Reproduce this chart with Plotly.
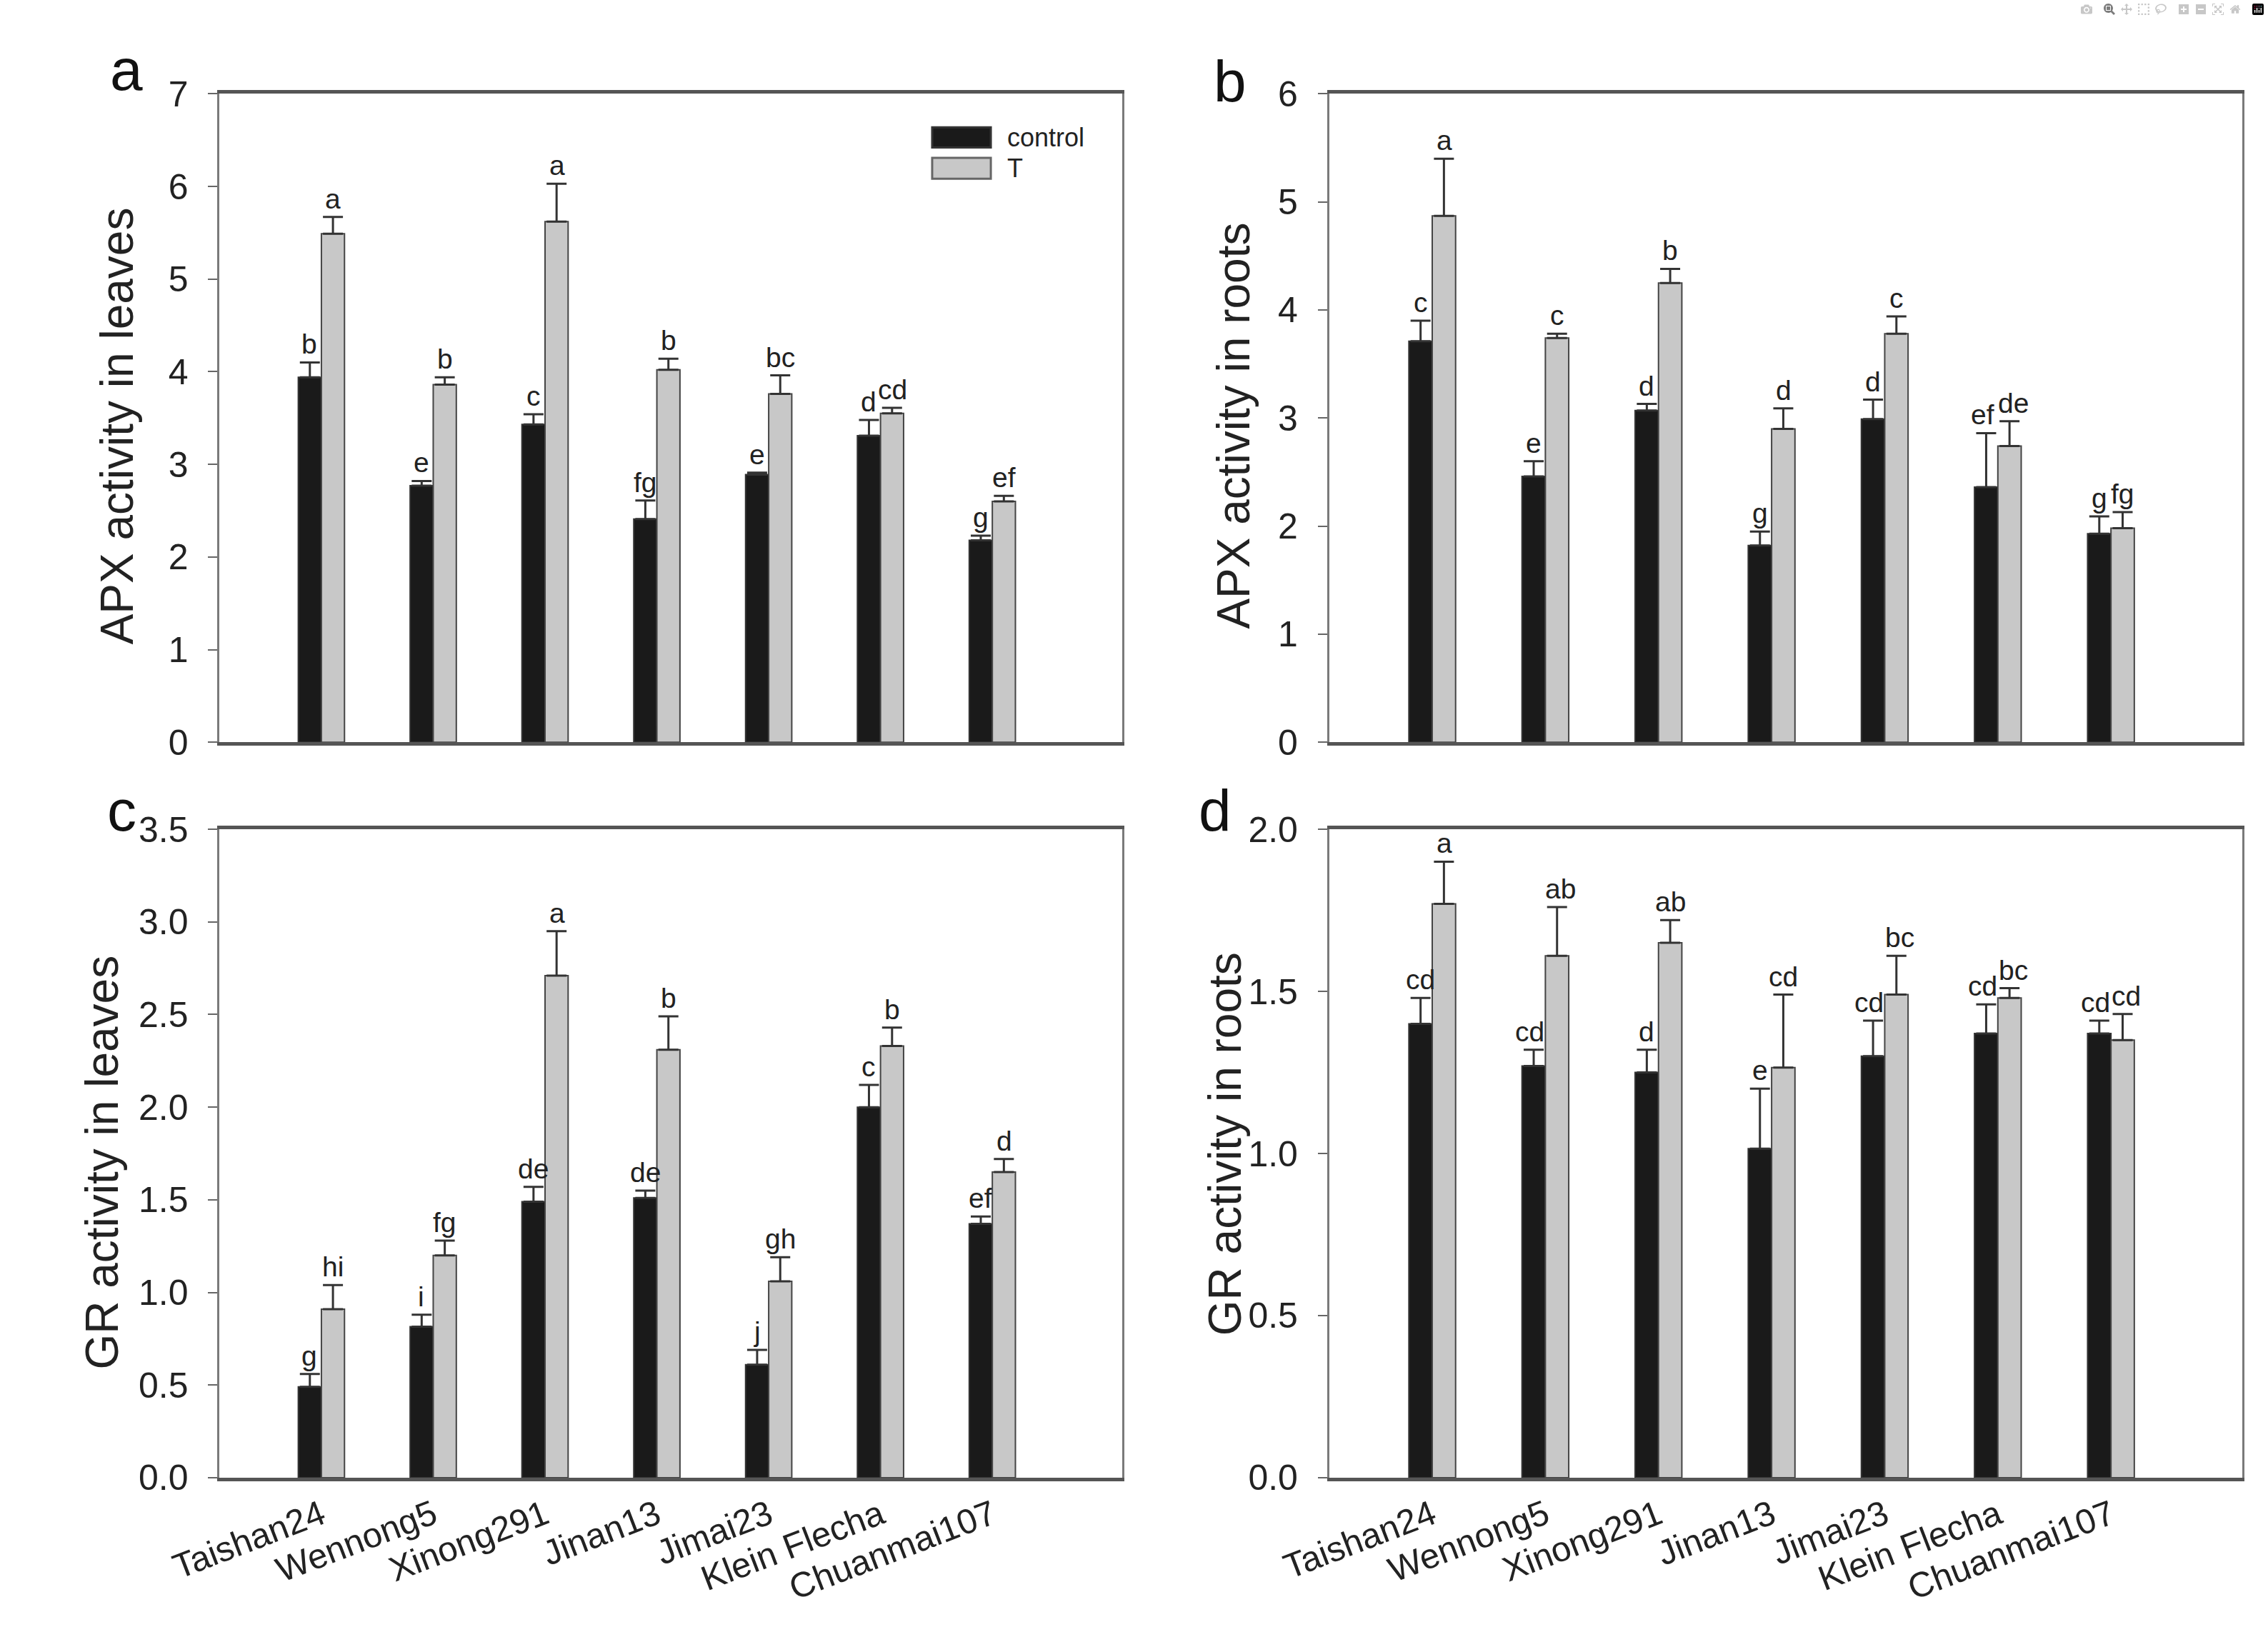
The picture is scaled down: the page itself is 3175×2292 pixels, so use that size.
import plotly.graph_objects as go

cultivars = ["Taishan24", "Wennong5", "Xinong291", "Jinan13", "Jimai23", "Klein Flecha", "Chuanmai107"]

# a: APX activity in leaves
apx_leaf_ctrl = [3.94, 2.77, 3.43, 2.41, 2.89, 3.31, 2.18]
apx_leaf_ctrl_err = [0.16, 0.05, 0.11, 0.20, 0.02, 0.17, 0.05]
apx_leaf_t = [5.49, 3.86, 5.62, 4.02, 3.76, 3.55, 2.60]
apx_leaf_t_err = [0.18, 0.08, 0.41, 0.12, 0.20, 0.06, 0.06]
apx_leaf_ctrl_lbl = ["b", "e", "c", "fg", "e", "d", "g"]
apx_leaf_t_lbl = ["a", "b", "a", "b", "bc", "cd", "ef"]

# b: APX activity in roots
apx_root_ctrl = [3.71, 2.46, 3.07, 1.82, 2.99, 2.36, 1.93]
apx_root_ctrl_err = [0.19, 0.14, 0.06, 0.13, 0.18, 0.50, 0.16]
apx_root_t = [4.87, 3.74, 4.25, 2.90, 3.78, 2.74, 1.98]
apx_root_t_err = [0.53, 0.04, 0.13, 0.19, 0.16, 0.23, 0.15]
apx_root_ctrl_lbl = ["c", "e", "d", "g", "d", "ef", "g"]
apx_root_t_lbl = ["a", "c", "b", "d", "c", "de", "fg"]

# c: GR activity in leaves
gr_leaf_ctrl = [0.49, 0.815, 1.49, 1.51, 0.61, 2.00, 1.37]
gr_leaf_ctrl_err = [0.07, 0.065, 0.08, 0.04, 0.08, 0.12, 0.04]
gr_leaf_t = [0.91, 1.20, 2.71, 2.31, 1.06, 2.33, 1.65]
gr_leaf_t_err = [0.13, 0.08, 0.24, 0.18, 0.13, 0.10, 0.07]
gr_leaf_ctrl_lbl = ["g", "i", "de", "de", "j", "c", "ef"]
gr_leaf_t_lbl = ["hi", "fg", "a", "b", "gh", "b", "d"]

# d: GR activity in roots
gr_root_ctrl = [1.40, 1.27, 1.25, 1.015, 1.30, 1.37, 1.37]
gr_root_ctrl_err = [0.08, 0.05, 0.07, 0.185, 0.11, 0.09, 0.04]
gr_root_t = [1.77, 1.61, 1.65, 1.265, 1.49, 1.48, 1.35]
gr_root_t_err = [0.13, 0.15, 0.07, 0.225, 0.12, 0.03, 0.08]
gr_root_ctrl_lbl = ["cd", "cd", "d", "e", "cd", "cd", "cd"]
gr_root_t_lbl = ["a", "ab", "ab", "cd", "bc", "bc", "cd"]

W, H = 3175, 2292
FONT = "Liberation Sans, Arial, sans-serif"
BLACK = "#1a1a1a"
GREY = "#c8c8c8"
TXT = "#222222"

panels = [
    # suffix, ctrl, ctrl_err, t, t_err, ctrl labels, t labels, title, yrange, dtick, fmt,
    # x extent px, y extent px, letter, letter pos, title pos
    ("", apx_leaf_ctrl, apx_leaf_ctrl_err, apx_leaf_t, apx_leaf_t_err, apx_leaf_ctrl_lbl, apx_leaf_t_lbl,
     "APX activity in leaves", [0, 7], 1, "d", [240, 1533], [106, 1037], "a", (106, 120), (93, 583)),
    ("2", apx_root_ctrl, apx_root_ctrl_err, apx_root_t, apx_root_t_err, apx_root_ctrl_lbl, apx_root_t_lbl,
     "APX activity in roots", [0, 6], 1, "d", [1830, 3138], [106, 1037], "b", (1688, 136), (1692, 583)),
    ("3", gr_leaf_ctrl, gr_leaf_ctrl_err, gr_leaf_t, gr_leaf_t_err, gr_leaf_ctrl_lbl, gr_leaf_t_lbl,
     "GR activity in leaves", [0, 3.5], 0.5, ".1f", [240, 1533], [1162, 2093], "c", (100, 1183), (72, 1640)),
    ("4", gr_root_ctrl, gr_root_ctrl_err, gr_root_t, gr_root_t_err, gr_root_ctrl_lbl, gr_root_t_lbl,
     "GR activity in roots", [0, 2.0], 0.5, ".1f", [1830, 3138], [1162, 2093], "d", (1666, 1183), (1680, 1614)),
]

fig = go.Figure()
annotations = []
half_bar_px = 16.5


def letter_shift(side, lab, other):
    # push neighbouring two-letter labels a little apart so they do not collide
    extra = 5 if (len(lab) + len(other)) >= 4 else 0
    return side * (half_bar_px + extra)


for i, (sfx, c, ce, t, te, cl, tl, title, yr, dt, fmt, xd, yd, letter, lpos, tpos) in enumerate(panels):
    xa, ya = "x" + sfx, "y" + sfx
    fig.add_trace(go.Bar(
        x=cultivars, y=c, name="control", xaxis=xa, yaxis=ya,
        marker=dict(color=BLACK, line=dict(color="#333333", width=2)),
        error_y=dict(type="data", array=ce, arrayminus=[0] * len(ce), symmetric=False,
                     color="#333333", thickness=3, width=14),
        showlegend=False,
    ))
    fig.add_trace(go.Bar(
        x=cultivars, y=t, name="T", xaxis=xa, yaxis=ya,
        marker=dict(color=GREY, line=dict(color="#444444", width=2)),
        error_y=dict(type="data", array=te, arrayminus=[0] * len(te), symmetric=False,
                     color="#333333", thickness=3, width=14),
        showlegend=False,
    ))

    # significance letters above the error bars
    for name, v, e, lab, other in zip(cultivars, c, ce, cl, tl):
        annotations.append(dict(x=name, y=v + e, xref=xa, yref=ya, text=lab, showarrow=False,
                                xshift=letter_shift(-1, lab, other), yanchor="bottom", yshift=2,
                                font=dict(family=FONT, size=39, color=TXT)))
    for name, v, e, lab, other in zip(cultivars, t, te, tl, cl):
        annotations.append(dict(x=name, y=v + e, xref=xa, yref=ya, text=lab, showarrow=False,
                                xshift=letter_shift(1, lab, other), yanchor="bottom", yshift=2,
                                font=dict(family=FONT, size=39, color=TXT)))

    # panel letter and y title
    annotations.append(dict(x=lpos[0] / W, y=1 - lpos[1] / H, xref="paper", yref="paper",
                            text=letter, showarrow=False, xanchor="center", yanchor="bottom",
                            font=dict(family=FONT, size=82, color="#111111")))
    annotations.append(dict(x=tpos[0] / W, y=1 - tpos[1] / H, xref="paper", yref="paper",
                            text=title, showarrow=False, textangle=-90,
                            xanchor="center", yanchor="middle",
                            font=dict(family=FONT, size=64, color=TXT)))

    bottom_row = i >= 2
    fig.update_layout(**{
        "xaxis" + sfx: dict(
            domain=[xd[0] / W, xd[1] / W], anchor=ya, type="category",
            range=[-0.91, 7.16], showline=True, linecolor="#555555", linewidth=5,
            mirror=True, ticks="", showgrid=False, zeroline=False,
            showticklabels=bottom_row, tickangle=-21,
            tickfont=dict(family=FONT, size=49, color=TXT),
        ),
        "yaxis" + sfx: dict(
            domain=[1 - yd[1] / H, 1 - yd[0] / H], anchor=xa,
            range=yr, dtick=dt, tick0=0, tickformat=fmt,
            showline=True, linecolor="#7a7a7a", linewidth=3, mirror=True,
            ticks="outside", ticklen=13, tickwidth=2, tickcolor="#666666",
            ticklabelstandoff=18, showgrid=False, zeroline=False,
            tickfont=dict(family=FONT, size=50, color=TXT),
        ),
    })

# legend drawn inside panel a
legend_items = [("control", BLACK, "#333333", 0.9484, 0.9173), ("T", GREY, "#666666", 0.9012, 0.8690)]
shapes = []
for lab, fill, edge, y1, y0 in legend_items:
    shapes.append(dict(type="rect", xref="x domain", yref="y domain", x0=0.7896, x1=0.8546,
                       y0=y0, y1=y1, fillcolor=fill, line=dict(color=edge, width=3)))
    annotations.append(dict(x=0.8709, y=(y0 + y1) / 2, xref="x domain", yref="y domain",
                            text=lab, showarrow=False, xanchor="left", yanchor="middle",
                            font=dict(family=FONT, size=36, color=TXT)))

fig.update_layout(
    width=W, height=H, autosize=False,
    margin=dict(l=0, r=0, t=0, b=0),
    paper_bgcolor="white", plot_bgcolor="white",
    barmode="group", bargap=0.587, bargroupgap=0,
    showlegend=False,
    annotations=annotations, shapes=shapes,
    font=dict(family=FONT, color=TXT),
)

fig.write_html("out.html", post_script="document.body.style.margin='0';")
